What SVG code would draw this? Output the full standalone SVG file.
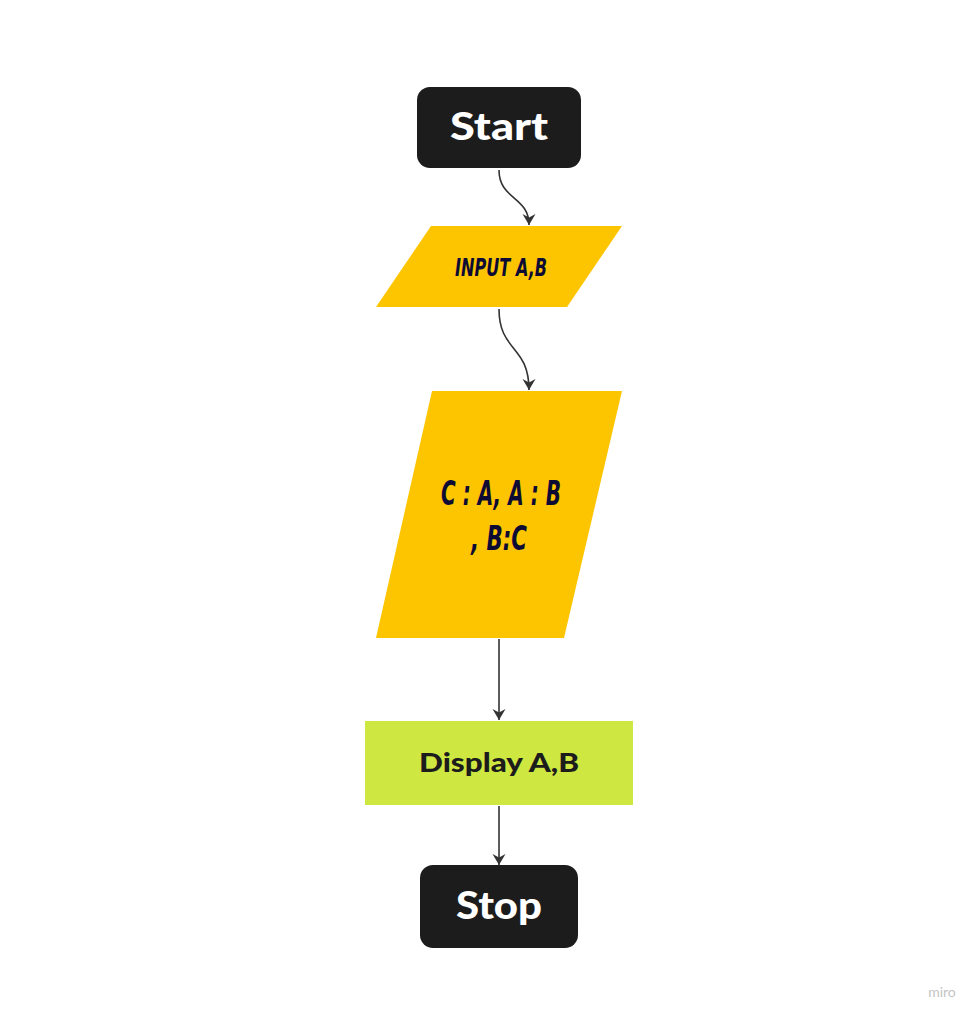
<svg xmlns="http://www.w3.org/2000/svg" width="980" height="1019" viewBox="0 0 980 1019">
<style>
.term{fill:#1c1c1c}
.io{fill:#fdc500}
.disp{fill:#cee741}
.tw{font-family:"Lato","Liberation Sans",sans-serif;font-weight:900;fill:#ffffff;text-anchor:middle}
.tio{font-family:"DejaVu Sans","Liberation Sans",sans-serif;font-weight:bold;font-style:italic;fill:#0d0b33;text-anchor:middle}
.td{font-family:"Lato","Liberation Sans",sans-serif;font-weight:900;fill:#1c1c1c;text-anchor:middle}
.conn{fill:none;stroke:#333333;stroke-width:1.6}
</style>
<defs>
<marker id="arr" markerWidth="16" markerHeight="16" refX="13" refY="8" orient="auto" markerUnits="userSpaceOnUse" viewBox="0 0 16 16">
<path d="M2,1.5 L13,8 L2,14.5 L5.5,8 Z" fill="#333333"/>
</marker>
</defs>
<rect width="980" height="1019" fill="#ffffff"/>
<g id="connectors">
<path class="conn" d="M499,170 C499,200 529,196 529,225" marker-end="url(#arr)"/>
<path class="conn" d="M499,309 C499,352 529,345 529,390" marker-end="url(#arr)"/>
<path class="conn" d="M499,639 L499,720" marker-end="url(#arr)"/>
<path class="conn" d="M499,806 L499,865" marker-end="url(#arr)"/>
</g>
<g id="start">
<rect class="term" x="417" y="87" width="164" height="81" rx="13"/>
<text class="tw" x="499" y="140" font-size="37" textLength="98" lengthAdjust="spacingAndGlyphs">Start</text>
</g>
<g id="input">
<polygon class="io" points="431,226 622,226 567,307 376,307"/>
<text class="tio" x="501" y="276" font-size="25" textLength="92" lengthAdjust="spacingAndGlyphs">INPUT A,B</text>
</g>
<g id="process">
<polygon class="io" points="432,391 622,391 564,638 376,638"/>
<text class="tio" x="501" y="505" font-size="34" textLength="120" lengthAdjust="spacingAndGlyphs">C : A, A : B</text>
<text class="tio" x="499" y="550" font-size="34" textLength="56" lengthAdjust="spacingAndGlyphs">, B:C</text>
</g>
<g id="display">
<rect class="disp" x="365" y="721" width="268" height="84"/>
<text class="td" x="499" y="772" font-size="27" textLength="160" lengthAdjust="spacingAndGlyphs">Display A,B</text>
</g>
<g id="stop">
<rect class="term" x="420" y="865" width="158" height="83" rx="13"/>
<text class="tw" x="499" y="919" font-size="37" textLength="86" lengthAdjust="spacingAndGlyphs">Stop</text>
</g>
<text x="942" y="997" font-family="Lato,'Liberation Sans',sans-serif" font-size="14" fill="#c4c4c4" text-anchor="middle">miro</text>
</svg>
